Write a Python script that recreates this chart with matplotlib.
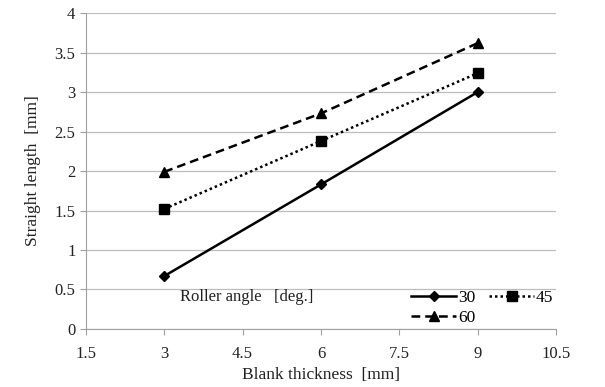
import matplotlib.pyplot as plt

thickness = [3, 6, 9]
angle_30 = [0.67, 1.83, 3.00]
angle_45 = [1.52, 2.38, 3.24]
angle_60 = [1.99, 2.73, 3.62]

plt.rcParams['font.family'] = ['Liberation Serif', 'DejaVu Serif']

fig = plt.figure(figsize=(6.05, 3.87), dpi=100)
ax = fig.add_axes([0.142, 0.150, 0.777, 0.816])

l30, = ax.plot(thickness, angle_30, color='black', lw=1.8, ls='-', marker='D', ms=5.5, label='30')
l45, = ax.plot(thickness, angle_45, color='black', lw=1.8, ls=(0, (1, 1.2)), marker='s', ms=7, label='45')
l60, = ax.plot(thickness, angle_60, color='black', lw=1.8, ls=(0, (3.5, 2)), marker='^', ms=7.5, label='60')

ax.set_xlim(1.5, 10.5)
ax.set_ylim(0, 4)
ax.set_xticks([1.5, 3, 4.5, 6, 7.5, 9, 10.5])
ax.set_xticklabels(['1.5', '3', '4.5', '6', '7.5', '9', '10.5'])
ax.set_yticks([0, 0.5, 1, 1.5, 2, 2.5, 3, 3.5, 4])
ax.set_yticklabels(['0', '0.5', '1', '1.5', '2', '2.5', '3', '3.5', '4'])
ax.grid(axis='y', color='#bdbdbd', lw=0.9)
ax.set_axisbelow(True)

for s in ['top', 'right']:
    ax.spines[s].set_visible(False)
for s in ['left', 'bottom']:
    ax.spines[s].set_color('#a0a0a0')
ax.tick_params(colors='#a0a0a0', labelcolor='#222222', labelsize=12, length=4, direction='out')
ax.tick_params(axis='x', pad=8)

ax.set_xlabel('Blank thickness  [mm]', fontsize=12.5, color='#222222', labelpad=4)
ax.set_ylabel('Straight length  [mm]', fontsize=12.5, color='#222222', labelpad=10)

ax.text(3.3, 0.4, 'Roller angle   [deg.]', fontsize=12, color='#222222', va='center')
# column-wise fill: 30 and 45 on the first row, 60 below
ax.legend([l30, l60, l45], ['30', '60', '45'], ncol=2, frameon=False, fontsize=12.5,
          loc='lower right', bbox_to_anchor=(1.02, -0.03), handlelength=2.6,
          handletextpad=0.1, columnspacing=0.8, labelspacing=0.25, borderpad=0.2)

fig.savefig('out.png', dpi=100)
